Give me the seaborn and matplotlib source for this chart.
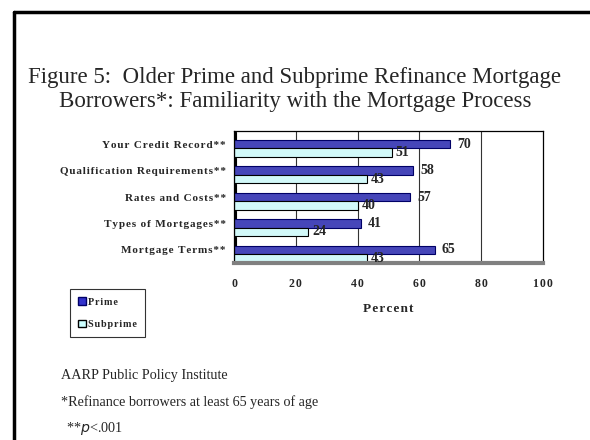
import matplotlib
matplotlib.use('Agg')
import matplotlib.pyplot as plt
import matplotlib.lines as mlines
import matplotlib.patches as mpatches
import seaborn as sns
import pandas as pd

# data
items = ['Your Credit Record**', 'Qualification Requirements**', 'Rates and Costs**',
         'Types of Mortgages**', 'Mortgage Terms**']
prime = [70, 58, 57, 41, 65]
subprime = [51, 43, 40, 24, 43]
stub = [0.8, 0.8, 0.8, 0.8, 0.8]   # empty 3rd series drawn as a sliver in the original
series = ['stub', 'Prime', 'Subprime']
colors = ['#000000', '#3333CC', '#CCFFFF']
edges = ['#000000', '#000066', '#000000']
xticks = [0, 20, 40, 60, 80, 100]


def spaced(s):
    # the original uses letter-spaced bold labels
    return '\u200a'.join(s)


df = pd.DataFrame({
    'item': items * 3,
    'value': stub + prime + subprime,
    'series': ['stub'] * 5 + ['Prime'] * 5 + ['Subprime'] * 5,
})

sns.set_style('white')
plt.rcParams['font.family'] = ['Liberation Serif', 'DejaVu Serif']

fig = plt.figure(figsize=(5.9, 4.4), dpi=100)
ax = fig.add_axes([234 / 590, 1 - 263 / 440, 309 / 590, 132 / 440])

sns.barplot(data=df, x='value', y='item', hue='series', hue_order=series,
            palette=colors, orient='h', width=0.96, ax=ax, legend=False)

for cont, ec in zip(ax.containers, edges):
    for bar in cont:
        bar.set_edgecolor(ec)
        bar.set_linewidth(0.8)

ax.bar_label(ax.containers[1], labels=[str(v) for v in prime], padding=5,
             fontsize=10, fontweight='bold')
ax.bar_label(ax.containers[2], labels=[str(v) for v in subprime], padding=3,
             fontsize=10, fontweight='bold')

ax.set_xlim(0, 100)
ax.set_ylim(4.5, -0.5)
ax.set_xticks(xticks)
ax.set_xticklabels([spaced(str(t)) for t in xticks], fontsize=8.5, fontweight='bold')
ax.tick_params(axis='x', length=3, pad=8, width=0.8, color='#404040')
ax.set_yticks(range(len(items)))
ax.set_yticklabels([spaced(s) for s in items], fontsize=8, fontweight='bold')
ax.tick_params(axis='y', length=0, pad=6)
ax.set_yticks([-0.5, 0.5, 1.5, 2.5, 3.5, 4.5], minor=True)
ax.tick_params(axis='y', which='minor', length=3, width=0.8)
ax.set_xlabel(spaced('Percent'), fontsize=9.5, fontweight='bold', labelpad=9)
ax.set_ylabel('')

for x in [20, 40, 60, 80]:
    ax.axvline(x, color='#333333', lw=0.8, zorder=0)

for s in ['left', 'top', 'right']:
    ax.spines[s].set_color('black')
    ax.spines[s].set_linewidth(0.9)
ax.spines['bottom'].set_color('#808080')
ax.spines['bottom'].set_linewidth(3)

# legend box
h = [mpatches.Patch(facecolor=colors[1], edgecolor=edges[1], label=spaced('Prime')),
     mpatches.Patch(facecolor=colors[2], edgecolor=edges[2], label=spaced('Subprime'))]
leg = fig.legend(handles=h, loc='upper left', bbox_to_anchor=(70 / 590, 1 - 289 / 440),
                 borderaxespad=0,
                 prop={'family': ['Liberation Serif', 'DejaVu Serif'], 'weight': 'bold', 'size': 7.3},
                 frameon=True, fancybox=False, edgecolor='black', handlelength=0.8,
                 handleheight=0.8, handletextpad=0.2, labelspacing=1.3, borderpad=0.8)
leg.get_frame().set_linewidth(0.8)

# title
fig.text(0.5, 1 - 77 / 440, 'Figure 5:  Older Prime and Subprime Refinance Mortgage',
         ha='center', va='center', fontsize=16.5)
fig.text(0.5, 1 - 102 / 440, 'Borrowers*: Familiarity with the Mortgage Process',
         ha='center', va='center', fontsize=16.5)

# notes
fig.text(61 / 590, 1 - 376 / 440, 'AARP Public Policy Institute', ha='left', va='center', fontsize=10.2)
fig.text(61 / 590, 1 - 402 / 440, '*Refinance borrowers at least 65 years of age',
         ha='left', va='center', fontsize=10.2)
fig.text(66 / 590, 1 - 428 / 440, r'**$\it{p}$<.001', ha='left', va='center', fontsize=10.2)

# slide frame (left and top edges)
fig.add_artist(mlines.Line2D([14 / 590, 14 / 590], [0, 1 - 12 / 440], color='black', lw=2.5,
                             transform=fig.transFigure))
fig.add_artist(mlines.Line2D([14 / 590, 1], [1 - 12 / 440, 1 - 12 / 440], color='black', lw=2.5,
                             transform=fig.transFigure))

fig.savefig('out.png', dpi=100)
